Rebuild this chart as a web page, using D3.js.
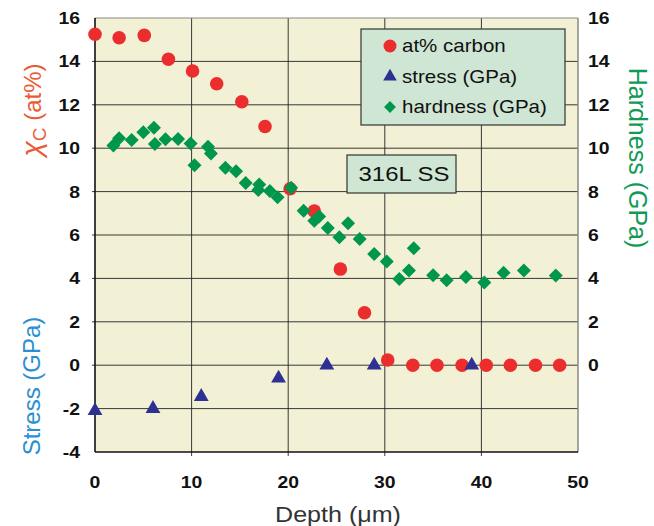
<!DOCTYPE html>
<meta charset="utf-8">
<style>
  body { margin: 0; background: #fff; }
  svg { font-family: "Liberation Sans", Arial, sans-serif; }
</style>
<body>
<div id="chart"></div>
<script src="https://d3js.org/d3.v7.min.js"></script>
<script>

// at% carbon vs depth
var carbonDepth = [0, 2.5, 5.1, 7.6, 10.1, 12.6, 15.2, 17.6, 20.2, 22.7, 25.4, 27.9, 30.3, 32.9, 35.4, 38.0, 40.5, 43.0, 45.6, 48.1];
var carbonVal   = [15.25, 15.09, 15.2, 14.1, 13.56, 12.97, 12.14, 11.0, 8.13, 7.1, 4.43, 2.42, 0.24, 0, 0, 0, 0, 0, 0, 0];

// stress (GPa)
var stressDepth = [0, 6.0, 11.0, 19.0, 24.0, 28.9, 39.0];
var stressVal   = [-2.1, -2.0, -1.45, -0.6, 0, 0, 0];

// hardness (GPa)
var hardDepth = [1.9, 2.5, 3.8, 5.0, 6.1, 6.2, 7.3, 8.6, 9.9, 10.3, 11.7, 12.0, 13.5, 14.6, 15.6, 17.0, 16.9, 18.1, 18.9, 20.3,
                 21.6, 22.7, 23.2, 24.1, 25.3, 26.2, 27.4, 28.9, 30.2, 31.5, 32.5, 33.0, 35.0, 36.4, 38.4, 40.3, 42.3, 44.4, 47.7];
var hardVal   = [10.12, 10.46, 10.38, 10.73, 10.94, 10.19, 10.41, 10.42, 10.22, 9.21, 10.07, 9.76, 9.1, 8.94, 8.4, 8.33, 8.07, 8.03, 7.74, 8.18,
                 7.12, 6.66, 6.85, 6.32, 5.9, 6.54, 5.82, 5.12, 4.78, 3.97, 4.36, 5.39, 4.15, 3.92, 4.07, 3.81, 4.26, 4.36, 4.13];

var xTicks = [0, 10, 20, 30, 40, 50];
var leftTicks = [-4, -2, 0, 2, 4, 6, 8, 10, 12, 14, 16];
var rightTicks = [0, 2, 4, 6, 8, 10, 12, 14, 16];
var legendLabels = ["at% carbon", "stress (GPa)", "hardness (GPa)"];

var width = 654, height = 526;
var plotL = 95, plotR = 578, plotT = 18, plotB = 452;
var stretch = 1.14;   // the source picture is a bit wide

var svg = d3.select("#chart").append("svg")
  .attr("width", width)
  .attr("height", height);

var x = d3.scaleLinear().domain([0, 50]).range([plotL, plotR]);
var y = d3.scaleLinear().domain([-4, 16]).range([plotB, plotT]);

// text with a small horizontal stretch
function label(parent, px, py, txt, size, anchor, fill) {
  return parent.append("text")
    .attr("transform", "translate(" + px + "," + py + ") scale(" + stretch + ",1)")
    .attr("dy", "0.35em")
    .attr("text-anchor", anchor)
    .attr("font-size", size)
    .attr("fill", fill || "#111")
    .text(txt);
}

// plot background
svg.append("rect")
  .attr("x", plotL).attr("y", plotT)
  .attr("width", plotR - plotL).attr("height", plotB - plotT)
  .attr("fill", "#f3f1d5");

// grid
svg.append("g").selectAll("line")
  .data(leftTicks.slice(1, -1))
  .enter().append("line")
  .attr("x1", plotL - 3).attr("x2", plotR)
  .attr("y1", d => y(d)).attr("y2", d => y(d))
  .attr("stroke", "#222").attr("stroke-width", 0.9);

svg.append("g").selectAll("line")
  .data(xTicks.slice(1, -1))
  .enter().append("line")
  .attr("x1", d => x(d)).attr("x2", d => x(d))
  .attr("y1", plotT).attr("y2", plotB + 4)
  .attr("stroke", "#222").attr("stroke-width", 0.9);

// frame
svg.append("line").attr("x1", plotL).attr("x2", plotR).attr("y1", plotT).attr("y2", plotT)
  .attr("stroke", "#8a8a80").attr("stroke-width", 1.2);
svg.append("line").attr("x1", plotR).attr("x2", plotR).attr("y1", plotT).attr("y2", plotB)
  .attr("stroke", "#8a8a80").attr("stroke-width", 1.5);
svg.append("line").attr("x1", plotL).attr("x2", plotL).attr("y1", plotT).attr("y2", plotB)
  .attr("stroke", "#111").attr("stroke-width", 1.6);
svg.append("line").attr("x1", plotL).attr("x2", plotR).attr("y1", plotB).attr("y2", plotB)
  .attr("stroke", "#111").attr("stroke-width", 1.6);

// tick labels
var tl = svg.append("g").attr("font-weight", "bold");
leftTicks.forEach(d => label(tl, 80, y(d), d, 17, "end"));
rightTicks.forEach(d => label(tl, 588, y(d), d, 17, "start"));
xTicks.forEach(d => label(tl, x(d), 482, d, 17, "middle"));

// axis titles
label(svg, 338, 514, "Depth (\u03bcm)", 22, "middle", "#333");

var xc = svg.append("text")
  .attr("transform", "translate(33,110) rotate(-90)")
  .attr("dy", "0.35em")
  .attr("text-anchor", "middle")
  .attr("font-size", 24)
  .attr("fill", "#ea5a36");
xc.append("tspan").attr("font-style", "italic").attr("font-size", 28).text("\u03c7");
xc.append("tspan").attr("font-size", 19).attr("dy", 5).text("C");
xc.append("tspan").attr("dy", -5).text(" (at%)");

svg.append("text")
  .attr("transform", "translate(32,386) rotate(-90)")
  .attr("dy", "0.35em")
  .attr("text-anchor", "middle")
  .attr("font-size", 24)
  .attr("fill", "#2b8fd2")
  .text("Stress (GPa)");

svg.append("text")
  .attr("transform", "translate(638,158) rotate(90)")
  .attr("dy", "0.35em")
  .attr("text-anchor", "middle")
  .attr("font-size", 25)
  .attr("fill", "#129a55")
  .text("Hardness (GPa)");

// markers: carbon first, hardness drawn over it
var red = "#ec2d2d", blue = "#2e3192", green = "#00974c";
var tri = d3.symbol().type(d3.symbolTriangle).size(95);
var dia = d3.symbol().type(d3.symbolSquare).size(98);

svg.append("g").selectAll("circle")
  .data(carbonDepth.map((d, i) => [d, carbonVal[i]]))
  .enter().append("circle")
  .attr("cx", d => x(d[0])).attr("cy", d => y(d[1]))
  .attr("r", 6.8)
  .attr("fill", red);

svg.append("g").selectAll("path")
  .data(stressDepth.map((d, i) => [d, stressVal[i]]))
  .enter().append("path")
  .attr("d", tri)
  .attr("transform", d => "translate(" + x(d[0]) + "," + y(d[1]) + ")")
  .attr("fill", blue);

svg.append("g").selectAll("path")
  .data(hardDepth.map((d, i) => [d, hardVal[i]]))
  .enter().append("path")
  .attr("d", dia)
  .attr("transform", d => "translate(" + x(d[0]) + "," + y(d[1]) + ") rotate(45)")
  .attr("fill", green);

// legend
var lg = svg.append("g");
lg.append("rect")
  .attr("x", 361).attr("y", 29).attr("width", 204).attr("height", 96)
  .attr("fill", "#cfe6d4").attr("stroke", "#333").attr("stroke-width", 1.2);

var legendMarks = [
  g => g.append("circle").attr("r", 6.5).attr("fill", red),
  g => g.append("path").attr("d", d3.symbol().type(d3.symbolTriangle).size(80)).attr("fill", blue),
  g => g.append("path").attr("d", d3.symbol().type(d3.symbolSquare).size(70)).attr("transform", "rotate(45)").attr("fill", green)
];
legendLabels.forEach(function(lbl, i) {
  var yy = 46 + i * 30.5;
  var g = lg.append("g").attr("transform", "translate(390," + yy + ")");
  legendMarks[i](g);
  label(lg, 402, yy, lbl, 18, "start");
});

// sample label
svg.append("rect")
  .attr("x", 347).attr("y", 155).attr("width", 109).attr("height", 38)
  .attr("fill", "#cfe6d4").attr("stroke", "#333").attr("stroke-width", 1.2);
label(svg, 404, 174, "316L SS", 21, "middle");

</script>
</body>
